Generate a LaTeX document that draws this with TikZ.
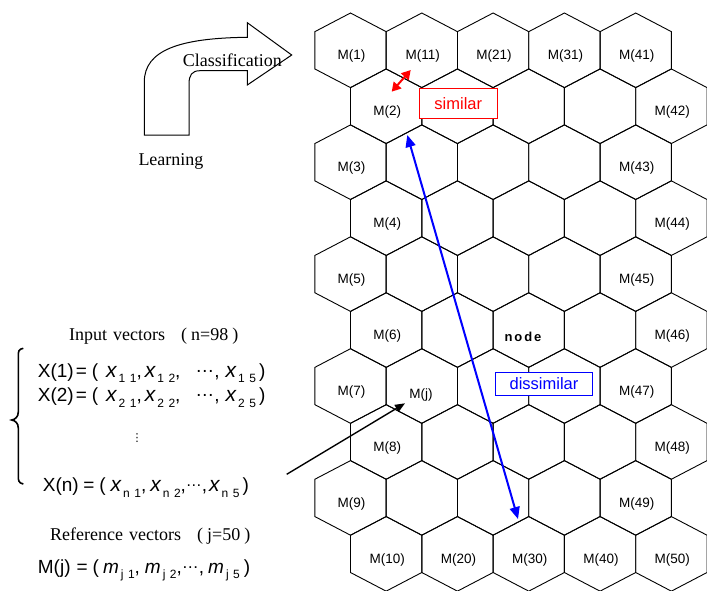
\documentclass[tikz,border=0pt]{standalone}
\usepackage{fontspec}
\setmainfont{Liberation Serif}
\setsansfont{Liberation Sans}
\newfontfamily\dejavu{DejaVu Sans}
\usetikzlibrary{arrows.meta}
\newcommand\xv[4][21]{{\fontsize{#1}{#1}\selectfont\itshape #2}\hspace{2pt}\raisebox{-5.5pt}{\fontsize{12}{12}\selectfont #3\hspace{4.5pt}#4}}
\newcommand\hexlab[2]{\pgfmathtruncatemacro\hn{10*(#2-1)+#1}\node[lbl] (m\hn) at ([shift={(1,6)}]h#1-#2) {M(\hn)};}
\begin{document}
\begin{tikzpicture}[x=1pt,y=-1pt,
  hexline/.style={line width=0.9pt, line join=miter},
  lbl/.style={font=\sffamily\fontsize{13.5}{14}\selectfont, inner sep=0pt},
  serif/.style={font=\fontsize{18}{19}\selectfont, inner sep=0pt, anchor=base west},
  eq/.style={font=\sffamily\fontsize{19}{20}\selectfont, inner sep=0pt, anchor=base west},
  tagbox/.style={fill=white, line width=1pt, inner sep=0pt, font=\sffamily\fontsize{16.5}{17}\selectfont}
]
\path[use as bounding box] (0,0) rectangle (707,590);
% hexagon grid
\foreach \r in {1,...,10}{
  \foreach \c in {1,...,5}{
    \pgfmathsetmacro\cx{350.5+(\c-1)*71.3+mod(\r+1,2)*35.65}
    \pgfmathsetmacro\cy{50.3+(\r-1)*55.95}
    \coordinate (h\r-\c) at (\cx,\cy);
    \draw[hexline] (h\r-\c) ++(0,-37.3) -- ++(35.65,18.65) -- ++(0,37.3) -- ++(-35.65,18.65) -- ++(-35.65,-18.65) -- ++(0,-37.3) -- cycle;
  }
}
% labels
\foreach \r in {1,...,10}{\hexlab{\r}{1}\hexlab{\r}{5}}
\foreach \c in {2,3,4}{\hexlab{1}{\c}\hexlab{10}{\c}}
\node[font=\sffamily\bfseries\fontsize{13}{14}\selectfont\addfontfeature{LetterSpace=15}, inner sep=0pt] (nd) at (523,336.7) {node};
\node[lbl] (mj) at (421,395.5) {M(j)};
% tag boxes
\node[tagbox, draw=red, text=red, minimum width=78pt, minimum height=30pt] (sim) at (458.3,103.3) {similar};
\node[tagbox, draw=blue, text=blue, minimum width=96.6pt, minimum height=22.3pt] (dis) at (544,383.9) {dissimilar};
% arrows
\coordinate (r1) at (391.7,91.7);
\coordinate (r2) at (410.7,70);
\draw[red, line width=2pt, {Triangle[length=9pt,width=10pt]}-{Triangle[length=9pt,width=10pt]}] (r1) -- (r2);
\coordinate (b1) at (407.3,135);
\coordinate (b2) at (518,519);
\draw[blue, line width=2pt, {Triangle[length=12pt,width=10pt]}-{Triangle[length=12pt,width=10pt]}] (b1) -- (b2);
\coordinate (k1) at (286.7,474.3);
\coordinate (k2) at (405,403.3);
\draw[black, line width=1.4pt, -{Triangle[length=10pt,width=8pt]}] (k1) -- (k2);
% curved arrow
\draw[line width=1pt, line join=miter] (144.3,135) -- (144.3,82) .. controls (144.3,50) and (180,38) .. (247.3,37.3) -- (247.3,22.7) -- (291.7,55) -- (247.3,85) -- (247.3,70.7) -- (200,70.7) .. controls (192,70.7) and (189,75) .. (189,84) -- (189,135) -- cycle;
\node[serif] (cls) at (182.7,66) {Classification};
\node[serif] (lrn) at (138.3,165.7) {Learning};
% input vectors
\node[serif] (inp) at (69,340.7) {Input\hspace{6pt}vectors\hspace{16pt}(\hspace{4pt}n=98\hspace{4pt})};
\node[eq] (x1) at (37.7,377.3) {X(1)\hspace{2pt}=\hspace{5pt}(\hspace{8pt}\xv{x}{1}{1},\hspace{3pt}\xv{x}{1}{2},\hspace{15pt}\raisebox{5pt}{…},\hspace{6pt}\xv{x}{1}{5}\hspace{3pt})};
\node[eq] (x2) at (37.7,401.7) {X(2)\hspace{2pt}=\hspace{5pt}(\hspace{8pt}\xv{x}{2}{1},\hspace{3pt}\xv{x}{2}{2},\hspace{15pt}\raisebox{5pt}{…},\hspace{6pt}\xv{x}{2}{5}\hspace{3pt})};
\node[font=\dejavu\fontsize{11}{11}\selectfont, inner sep=0pt] (vd) at (137,438) {⋮};
\node[eq] (xn) at (42.7,491.7) {X(n)\hspace{4.5pt}=\hspace{5pt}(\hspace{5pt}\xv{x}{n}{1},\hspace{4pt}\xv{x}{n}{2},{\fontsize{16}{16}\selectfont\raisebox{5pt}{…}},\hspace{2pt}\xv{x}{n}{5}\hspace{3pt})};
\draw[line width=1.6pt] (23.3,348.3) .. controls (18.3,349) and (18.3,352) .. (18.3,356) -- (18.3,412) .. controls (18.3,417) and (15,419.5) .. (11.7,420) .. controls (15,420.5) and (18.3,423) .. (18.3,428) -- (18.3,476) .. controls (18.3,480) and (18.3,483) .. (23.3,484);
% reference vectors
\node[serif] (ref) at (50,540) {Reference\hspace{6pt}vectors\hspace{16pt}(\hspace{4pt}j=50\hspace{4pt})};
\node[eq] (mline) at (37.7,573.3) {M(j)\hspace{6pt}=\hspace{5pt}(\hspace{4pt}\xv[19]{m}{j}{1},\hspace{5pt}\xv[19]{m}{j}{2},{\fontsize{17}{17}\selectfont\raisebox{5pt}{…}},\hspace{4pt}\xv[19]{m}{j}{5}\hspace{4pt})};
\end{tikzpicture}
\end{document}
